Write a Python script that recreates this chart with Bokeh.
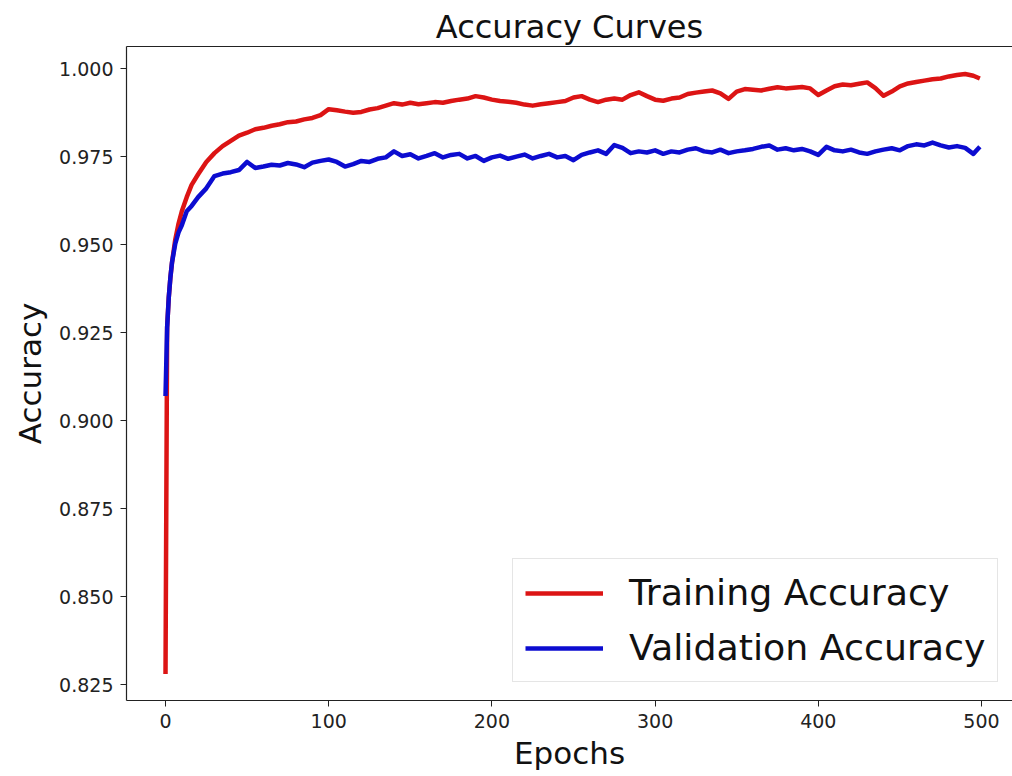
from bokeh.plotting import figure
from bokeh.models import (Range1d, FixedTicker, LinearAxis, NumeralTickFormatter,
                          Legend, LegendItem, ColumnDataSource)
from bokeh.embed import file_html
from bokeh.resources import INLINE

epochs = [0, 1, 2, 3, 4, 6, 8, 10, 13, 16, 20, 25, 30, 35, 40, 45, 50, 55, 60, 65,
          70, 75, 80, 85, 90, 95, 100, 105, 110, 115, 120, 125, 130, 135, 140, 145,
          150, 155, 160, 165, 170, 175, 180, 185, 190, 195, 200, 205, 210, 215, 220,
          225, 230, 235, 240, 245, 250, 255, 260, 265, 270, 275, 280, 285, 290, 295,
          300, 305, 310, 315, 320, 325, 330, 335, 340, 345, 350, 355, 360, 365, 370,
          375, 380, 385, 390, 395, 400, 405, 410, 415, 420, 425, 430, 435, 440, 445,
          450, 455, 460, 465, 470, 475, 480, 485, 490, 495, 499]

train_acc = [0.828, 0.9265, 0.935, 0.9407, 0.945, 0.9515, 0.956, 0.9595, 0.9635, 0.967,
             0.970, 0.9735, 0.976, 0.978, 0.9795, 0.981, 0.9818, 0.9828, 0.9832, 0.9838,
             0.9842, 0.9848, 0.985, 0.9856, 0.986, 0.9868, 0.9885, 0.9882, 0.9878, 0.9875,
             0.9877, 0.9884, 0.9888, 0.9895, 0.9902, 0.9898, 0.9903, 0.9899, 0.9902, 0.9905,
             0.9903, 0.9908, 0.9912, 0.9915, 0.9922, 0.9918, 0.9912, 0.9908, 0.9906, 0.9903,
             0.9898, 0.9895, 0.9899, 0.9902, 0.9905, 0.9908, 0.9918, 0.9922, 0.9912, 0.9905,
             0.9912, 0.9915, 0.9912, 0.9925, 0.9933, 0.9922, 0.9912, 0.9909, 0.9915, 0.9918,
             0.9928, 0.9932, 0.9935, 0.9938, 0.993, 0.9914, 0.9935, 0.9942, 0.994, 0.9938,
             0.9943, 0.9947, 0.9944, 0.9946, 0.9948, 0.9944, 0.9925, 0.9938, 0.995, 0.9955,
             0.9953, 0.9957, 0.9961, 0.9945, 0.9923, 0.9935, 0.995, 0.9958, 0.9962, 0.9966,
             0.997, 0.9972, 0.9978, 0.9982, 0.9985, 0.998, 0.9972]

val_acc = [0.907, 0.9265, 0.935, 0.9407, 0.945, 0.9503, 0.9535, 0.9555, 0.9595, 0.961,
           0.9635, 0.966, 0.9695, 0.9702, 0.9706, 0.9712, 0.9735, 0.9718, 0.9722, 0.9727,
           0.9725, 0.9732, 0.9728, 0.972, 0.9733, 0.9738, 0.9742, 0.9735, 0.9722, 0.9729,
           0.9738, 0.9735, 0.9744, 0.9748, 0.9765, 0.9752, 0.9757, 0.9745, 0.9752, 0.976,
           0.9748, 0.9755, 0.9758, 0.9745, 0.9752, 0.9738, 0.9748, 0.9753, 0.9744, 0.975,
           0.9756, 0.9745, 0.9752, 0.9758, 0.9748, 0.9752, 0.974, 0.9755, 0.9762, 0.9768,
           0.9758, 0.9783, 0.9775, 0.976, 0.9765, 0.9762, 0.9768, 0.9758, 0.9765, 0.9762,
           0.977, 0.9774, 0.9765, 0.9762, 0.977, 0.976, 0.9765, 0.9768, 0.9772, 0.9778,
           0.9782, 0.977, 0.9774, 0.9768, 0.9772, 0.9765, 0.9755, 0.9778, 0.9768, 0.9765,
           0.977, 0.9762, 0.9758, 0.9765, 0.977, 0.9774, 0.9768, 0.978, 0.9785, 0.9782,
           0.979, 0.9782, 0.9776, 0.978, 0.9775, 0.9758, 0.9778]

x_ticks = [0, 100, 200, 300, 400, 500]
y_ticks = [0.825, 0.850, 0.875, 0.900, 0.925, 0.950, 0.975, 1.000]
series_labels = ["Training Accuracy", "Validation Accuracy"]

FONT = "DejaVu Sans"

p = figure(width=1012, height=776, output_backend="svg", toolbar_location=None,
           x_range=Range1d(-23.9, 519.0), y_range=Range1d(0.8205, 1.0063),
           min_border_left=126, min_border_right=0, min_border_top=46,
           min_border_bottom=76, background_fill_color="white",
           border_fill_color="white")
p.outline_line_color = None
p.grid.visible = False

p.title.text = "Accuracy Curves"
p.title.text_font = FONT
p.title.text_font_size = "32px"
p.title.text_font_style = "normal"
p.title.align = "center"
p.title.text_color = "#111111"
p.title.standoff = 2
p.title.offset = 0

for ax in (p.xaxis[0], p.yaxis[0]):
    ax.axis_line_color = "#222222"
    ax.axis_line_width = 1.2
    ax.major_tick_line_color = "#222222"
    ax.major_tick_in = 0
    ax.major_tick_out = 6
    ax.minor_tick_line_color = None
    ax.major_label_text_font = FONT
    ax.major_label_text_font_size = "19px"
    ax.major_label_text_color = "#222222"
    ax.axis_label_text_font = FONT
    ax.axis_label_text_font_style = "normal"
    ax.axis_label_text_font_size = "31px"
    ax.axis_label_text_color = "#111111"
    ax.major_label_standoff = 7

p.xaxis.ticker = FixedTicker(ticks=x_ticks)
p.yaxis.ticker = FixedTicker(ticks=y_ticks)
p.yaxis.formatter = NumeralTickFormatter(format="0.000")
p.xaxis.axis_label = "Epochs"
p.yaxis.axis_label = "Accuracy"
p.xaxis.axis_label_standoff = 4
p.yaxis.axis_label_standoff = 8

top = LinearAxis(ticker=FixedTicker(ticks=[]), axis_line_color="#222222",
                 axis_line_width=1.2, major_tick_line_color=None,
                 major_tick_out=0, major_tick_in=0, major_label_standoff=0,
                 minor_tick_line_color=None, major_label_text_font_size="0px")
p.add_layout(top, "above")

src_t = ColumnDataSource(dict(x=epochs, y=train_acc))
src_v = ColumnDataSource(dict(x=epochs, y=val_acc))
r_t = p.line("x", "y", source=src_t, line_color="#dc1414", line_width=4.5,
             line_join="round")
r_v = p.line("x", "y", source=src_v, line_color="#0c0cd0", line_width=4.5,
             line_join="round")

legend = Legend(items=[LegendItem(label=series_labels[0], renderers=[r_t]),
                       LegendItem(label=series_labels[1], renderers=[r_v])],
                location=(386, 18))
legend.label_text_font = FONT
legend.label_text_font_size = "36.3px"
legend.label_text_color = "#111111"
legend.glyph_width = 78
legend.glyph_height = 42
legend.label_height = 42
legend.label_standoff = 26
legend.spacing = 12
legend.padding = 12
legend.margin = 0
legend.border_line_color = "#cccccc"
legend.border_line_width = 1
legend.background_fill_color = "white"
legend.background_fill_alpha = 1.0
p.add_layout(legend, "center")

open("out.html", "w").write(file_html(p, INLINE))
